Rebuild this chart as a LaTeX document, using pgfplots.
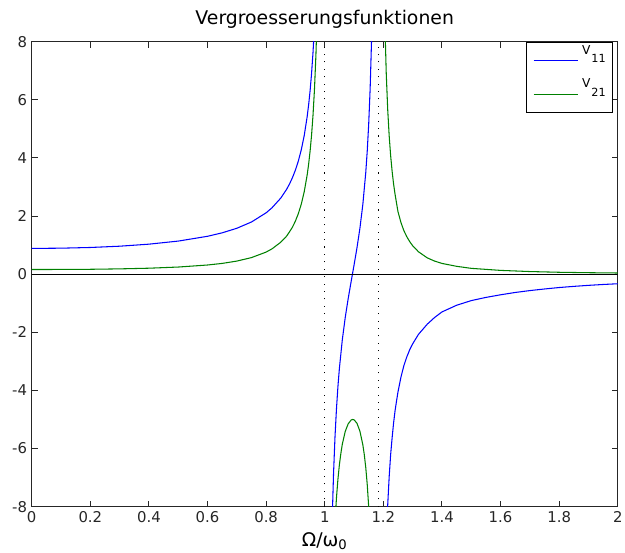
\documentclass[border=0pt]{standalone}
\usepackage{fontspec}
\setmainfont{DejaVu Sans}
\usepackage{pgfplots}
\pgfplotsset{compat=1.18}
\definecolor{mblue}{rgb}{0,0,1}
\definecolor{mgreen}{rgb}{0,0.5,0}
\newcommand{\lgd}[1]{\fontsize{9.25}{10}\selectfont V\kern0.8pt\raisebox{-6.25pt}{\fontsize{8.5}{9}\selectfont #1}}
\begin{document}
\begin{tikzpicture}
\begin{axis}[
  scale only axis, width=443.25pt, height=351.75pt,
  xmin=0, xmax=2, ymin=-8, ymax=8, enlargelimits=false,
  xtick={0,0.2,0.4,0.6,0.8,1,1.2,1.4,1.6,1.8,2},
  ytick={-8,-6,-4,-2,0,2,4,6,8},
  tick pos=both, tick align=inside, major tick length=4.5pt,
  axis line style={black!85, line width=0.75pt},
  every tick/.style={black!85, line width=0.75pt},
  /pgf/number format/assume math mode=true,
  ticklabel style={font=\fontsize{11.25}{12}\selectfont, text=black!85},
  every axis title shift=0pt,
  title={Vergroesserungsfunktionen},
  title style={at={(0.5,1)}, anchor=base, yshift=13.3pt, font=\fontsize{14.25}{16}\selectfont},
  xlabel={Ω/ω\textsubscript{0}},
  xlabel style={at={(0.5,0)}, anchor=base, yshift=-30pt, font=\fontsize{14.25}{16}\selectfont},
  legend cell align=left,
  legend style={at={(1,1)}, anchor=north east, xshift=-3.75pt, draw=black, line width=0.6pt, fill=white,
    inner xsep=5pt, inner ysep=2.5pt, row sep=2.5pt, column sep=2.5pt,
    nodes={inner sep=0pt, text height=6.75pt, text depth=16.25pt}},
]
% V11 left branch
\addplot[mblue, line width=0.8pt, legend image code/.code={\draw[draw=mblue, line width=0.8pt] (0pt,0pt) -- (33.75pt,0pt);}] coordinates {
(0,0.886)(0.1,0.894)(0.2,0.918)(0.3,0.962)(0.4,1.032)(0.5,1.138)(0.6,1.303)(0.65,1.422)(0.7,1.579)(0.75,1.795)(0.8,2.111)(0.82,2.283)(0.85,2.618)(0.87,2.921)(0.88,3.107)(0.89,3.325)(0.9,3.583)(0.91,3.895)(0.92,4.281)(0.93,4.770)(0.94,5.415)(0.945,5.821)(0.95,6.306)(0.955,6.896)(0.96,7.628)(0.965,8.566)(0.97,9.81)};
\addlegendentry{\lgd{11}}
% V21 left branch
\addplot[mgreen, line width=0.8pt, legend image code/.code={\draw[draw=mgreen, line width=0.8pt] (0pt,0pt) -- (33.75pt,0pt);}] coordinates {
(0,0.16)(0.1,0.162)(0.2,0.168)(0.3,0.182)(0.4,0.205)(0.5,0.245)(0.6,0.315)(0.65,0.37)(0.7,0.45)(0.75,0.57)(0.8,0.76)(0.82,0.87)(0.85,1.10)(0.87,1.31)(0.88,1.46)(0.89,1.62)(0.9,1.83)(0.91,2.085)(0.92,2.41)(0.93,2.836)(0.94,3.41)(0.945,3.78)(0.95,4.23)(0.955,4.775)(0.96,5.47)(0.965,6.36)(0.97,7.56)(0.975,9.24)};
\addlegendentry{\lgd{21}}
% V11 middle branch
\addplot[mblue, line width=0.8pt, forget plot] coordinates {
(1.02,-11.23)(1.025,-8.628)(1.03,-6.875)(1.035,-5.606)(1.04,-4.640)(1.045,-3.872)(1.05,-3.244)(1.06,-2.256)(1.07,-1.489)(1.08,-0.843)(1.09,-0.259)(1.10,0.310)(1.11,0.904)(1.12,1.574)(1.13,2.394)(1.14,3.494)(1.145,4.225)(1.15,5.153)(1.155,6.386)(1.16,8.122)(1.165,10.78)};
% V11 right branch
\addplot[mblue, line width=0.8pt, forget plot] coordinates {
(1.21,-9.26)(1.215,-7.93)(1.22,-6.96)(1.225,-6.20)(1.23,-5.63)(1.235,-5.12)(1.24,-4.70)(1.245,-4.37)(1.25,-4.05)(1.26,-3.55)(1.27,-3.15)(1.28,-2.85)(1.29,-2.60)(1.30,-2.40)(1.32,-2.07)(1.35,-1.72)(1.375,-1.49)(1.40,-1.30)(1.45,-1.07)(1.50,-0.91)(1.55,-0.80)(1.60,-0.71)(1.65,-0.63)(1.70,-0.565)(1.75,-0.51)(1.80,-0.46)(1.85,-0.42)(1.90,-0.385)(1.95,-0.355)(2.00,-0.33)};
% V21 middle branch
\addplot[mgreen, line width=0.8pt, forget plot] coordinates {
(1.03,-9.69)(1.035,-8.54)(1.04,-7.70)(1.045,-7.06)(1.05,-6.56)(1.055,-6.17)(1.06,-5.85)(1.07,-5.41)(1.08,-5.15)(1.09,-5.02)(1.095,-5.00)(1.10,-5.01)(1.11,-5.13)(1.12,-5.40)(1.13,-5.87)(1.135,-6.21)(1.14,-6.65)(1.145,-7.23)(1.15,-8.00)(1.155,-9.08)};
% V21 right branch
\addplot[mgreen, line width=0.8pt, forget plot] coordinates {
(1.2,11.65)(1.205,8.72)(1.21,6.89)(1.215,5.65)(1.22,4.75)(1.225,4.07)(1.23,3.54)(1.235,3.10)(1.24,2.75)(1.245,2.45)(1.25,2.15)(1.26,1.78)(1.27,1.50)(1.28,1.29)(1.29,1.12)(1.30,0.98)(1.32,0.77)(1.35,0.56)(1.375,0.45)(1.40,0.37)(1.45,0.27)(1.50,0.20)(1.60,0.13)(1.70,0.09)(1.80,0.065)(1.90,0.05)(2.00,0.04)};
% zero line and dotted markers
\addplot[black, line width=0.75pt, forget plot] coordinates {(0,0)(2,0)};
\addplot[black, line width=0.8pt, dash pattern=on 0.8pt off 4.8pt, forget plot] coordinates {(1,-8)(1,8)};
\addplot[black, line width=0.8pt, dash pattern=on 0.8pt off 4.8pt, forget plot] coordinates {(1.183,-8)(1.183,8)};
\coordinate (sw) at (rel axis cs:0,0);
\coordinate (ne) at (rel axis cs:1,1);
\end{axis}
\pgfresetboundingbox
\path[use as bounding box] ([xshift=-24pt,yshift=-34.5pt]sw) rectangle ([xshift=5.5pt,yshift=31.5pt]ne);
\end{tikzpicture}
\end{document}
